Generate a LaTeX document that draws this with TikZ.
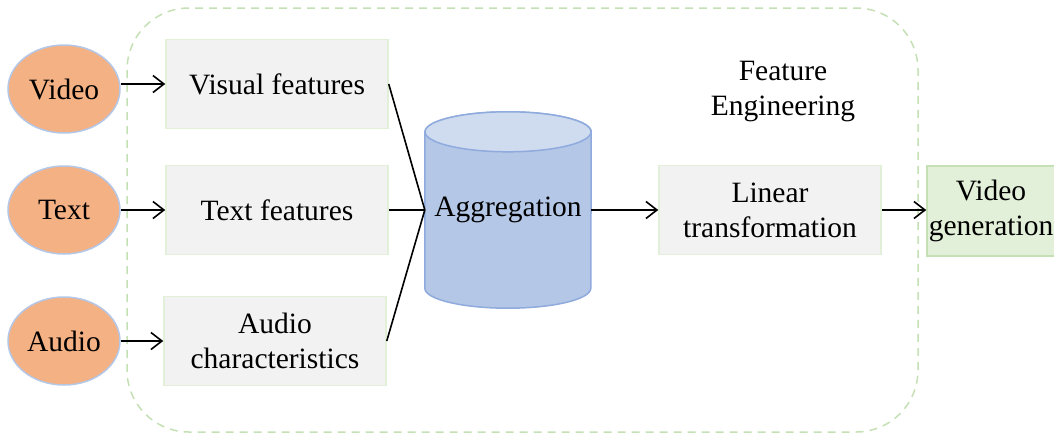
\documentclass[tikz,border=0pt]{standalone}
\usepackage{fontspec}
\setmainfont{Liberation Serif}
\usepackage{tikz}
\usetikzlibrary{arrows.meta, shapes.geometric}
\definecolor{srcfill}{HTML}{F4B183}
\definecolor{srcline}{HTML}{B4C7E7}
\definecolor{boxfill}{HTML}{F2F2F2}
\definecolor{boxline}{HTML}{E2F0D9}
\definecolor{genfill}{HTML}{E2F0D9}
\definecolor{genline}{HTML}{C5E0B4}
\definecolor{cylbody}{HTML}{B4C7E7}
\definecolor{cyltop}{HTML}{CFDCF0}
\definecolor{cylline}{HTML}{8FAADC}

\begin{document}
\begin{tikzpicture}[x=1pt, y=-1pt,
    every node/.style={font=\fontsize{29.5}{35}\selectfont},
    source/.style={ellipse, draw=srcline, line width=1.5pt, fill=srcfill, minimum width=112pt, minimum height=88pt, inner sep=0pt},
    feat/.style={rectangle, draw=boxline, line width=1.5pt, fill=boxfill, minimum width=222pt, minimum height=89pt, align=center},
    link/.style={line width=1.6pt, -{Straight Barb[length=11pt, width=17pt]}}]
    \useasboundingbox (0,0) rectangle (1054,434);

    % Draw the feature engineering frame
    \draw[genline, line width=1.5pt, dash pattern=on 8pt off 6pt, rounded corners=62pt] (127,8) rectangle (918,432);
    \node[align=center] (FE) at (783,92) {Feature\\Engineering};

    % Inputs
    \node[source] (Video) at (64,89) {Video};
    \node[source] (Text) at (64,210) {Text};
    \node[source] (Audio) at (64,341) {Audio};

    % Extracted features
    \node[feat] (Visual) at (277,84) {Visual features};
    \node[feat] (TextF) at (277,210) {Text features};
    \node[feat] (AudioF) at (275,341) {Audio\\characteristics};

    % Aggregation cylinder
    \node[minimum width=166pt, minimum height=196pt, inner sep=0pt] (Agg) at (508,210) {};
    \path[fill=cylbody, draw=cylline, line width=1.5pt] ([yshift=-20pt]Agg.north west) -- ([yshift=20pt]Agg.south west)
        arc[start angle=180, end angle=360, x radius=83pt, y radius=20pt] -- ([yshift=-20pt]Agg.north east)
        arc[start angle=0, end angle=180, x radius=83pt, y radius=20pt] -- cycle;
    \draw[fill=cyltop, draw=cylline, line width=1.5pt] ([yshift=-20pt]Agg.north) ellipse [x radius=83pt, y radius=20pt];
    \node at (Agg) {Aggregation};

    % Linear transformation and output
    \node[feat] (Linear) at (770,210) {Linear\\transformation};
    \node[rectangle, draw=genline, line width=1.5pt, fill=genfill, minimum width=128pt, minimum height=90pt, inner sep=0pt, align=center] (Gen) at (991,211) {Video\\generation};

    % Connect
    \draw[link] (Video.east |- Visual.west) -- (Visual.west);
    \draw[link] (Text) -- (TextF);
    \draw[link] (Audio) -- (AudioF);
    \foreach \f in {Visual, TextF, AudioF}
        \draw[line width=1.6pt] (\f.east) -- (Agg.west);
    \draw[link] (Agg.east) -- (Linear.west);
    \draw[link] (Linear.east) -- (Gen.west |- Linear.east);
\end{tikzpicture}
\end{document}
